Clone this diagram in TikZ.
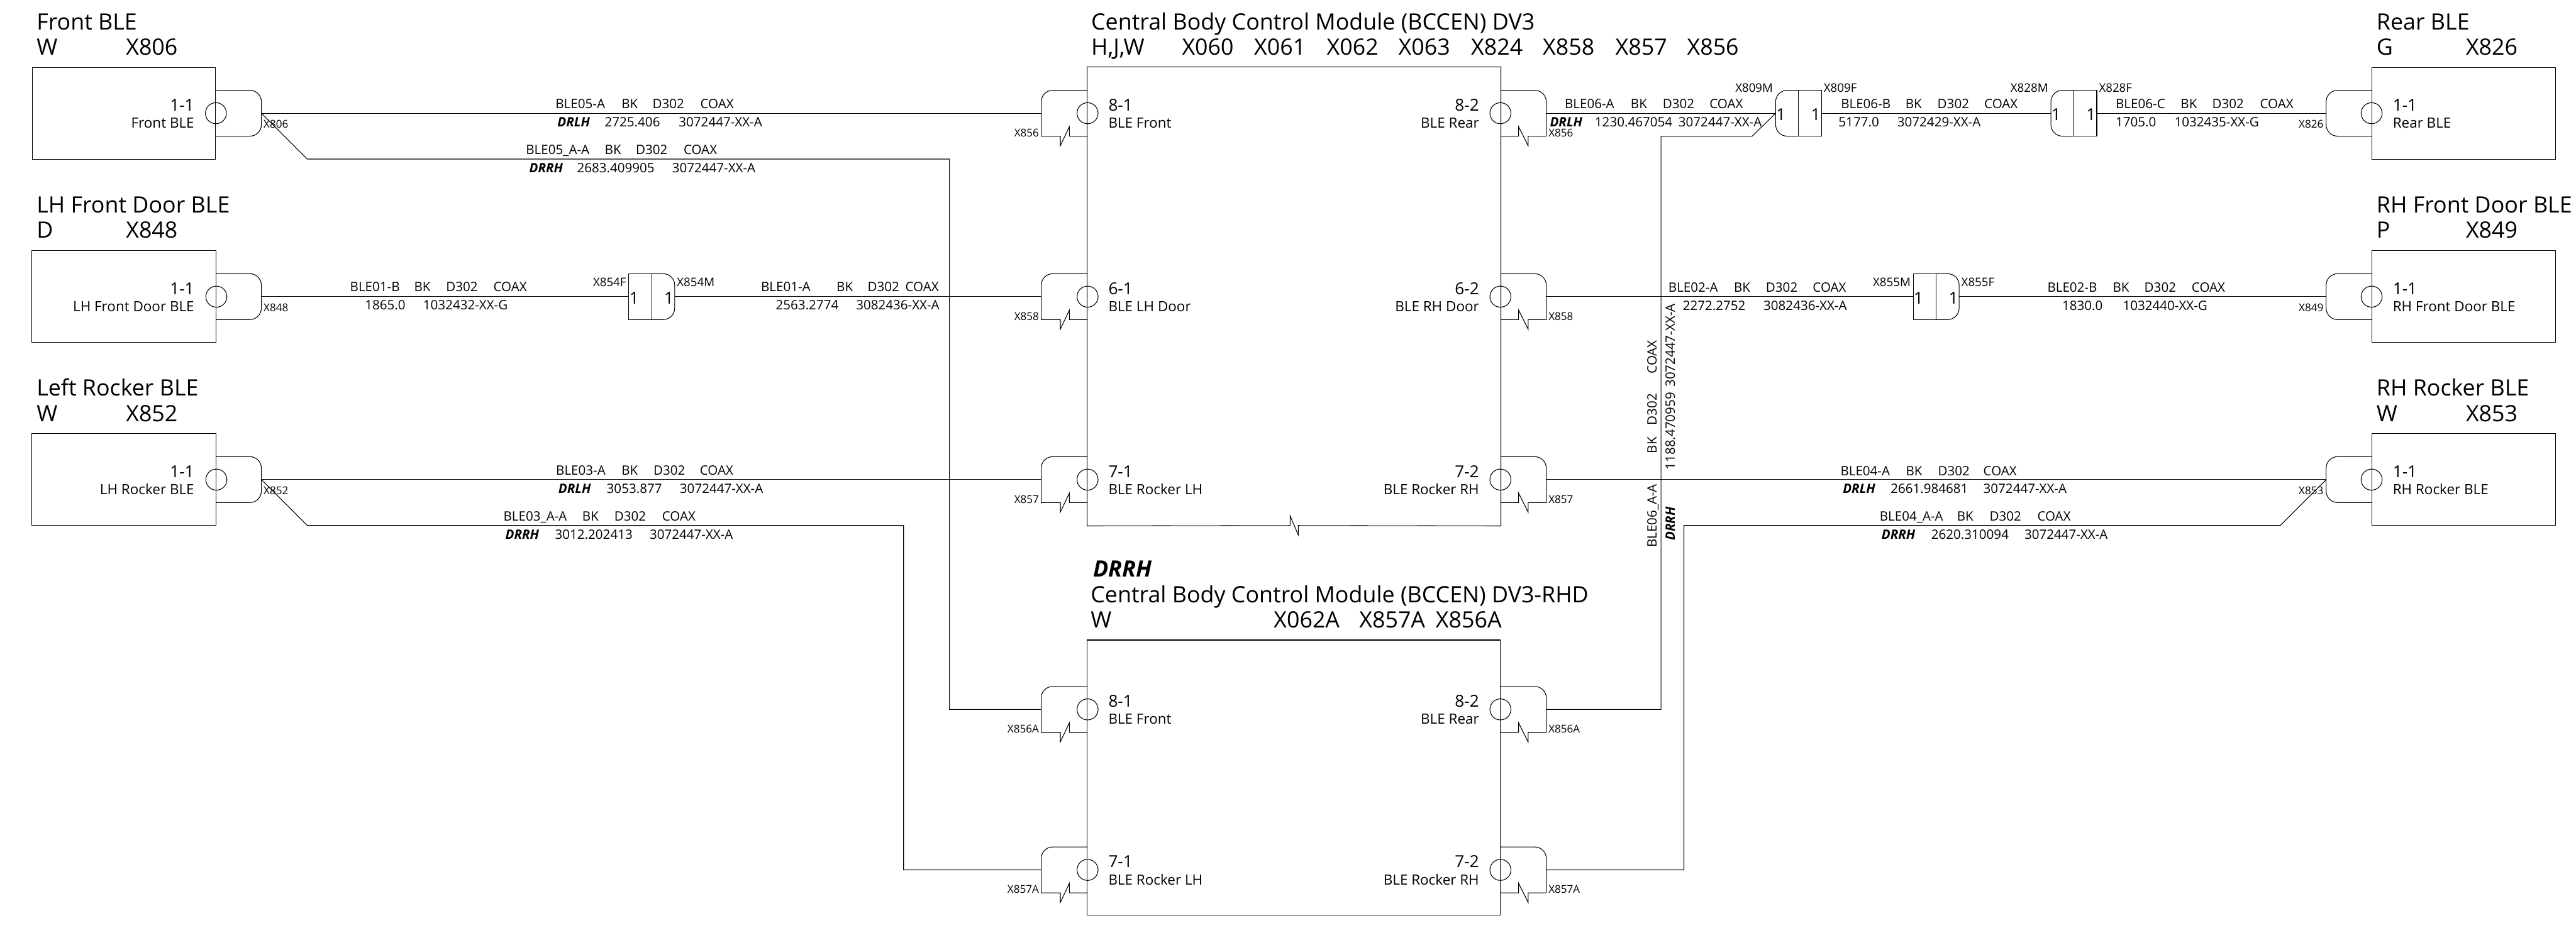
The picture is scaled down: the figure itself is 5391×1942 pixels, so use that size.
\documentclass[tikz,border=0pt]{standalone}
\usepackage{fontspec}
\setmainfont{Open Sans}
\usetikzlibrary{calc}
\tikzset{
  devbox/.style={draw,inner sep=0pt},
  pinring/.style={draw,circle,inner sep=0pt,minimum size=4.4mm},
  titletxt/.style={inner sep=0pt,anchor=base west,font=\fontsize{13.4}{15}\selectfont},
  tagtitle/.style={titletxt,font=\fontsize{13.4}{15}\selectfont\bfseries\itshape},
  porttxt/.style={inner sep=0pt,font=\fontsize{9.8}{11}\selectfont},
  namtxt/.style={inner sep=0pt,font=\fontsize{8.4}{9}\selectfont},
  wiretxt/.style={inner sep=0pt,anchor=base west,font=\fontsize{7.7}{9}\selectfont},
  tagtxt/.style={wiretxt,font=\fontsize{7.7}{9}\selectfont\bfseries\itshape},
  contxt/.style={inner sep=0pt,font=\fontsize{6.4}{8}\selectfont},
}
\begin{document}
\begin{tikzpicture}[x=0.01cm,y=-0.01cm,line width=.4pt]
\useasboundingbox (0,0) rectangle (5391,1942);
% devices on the left
\node[devbox,minimum width=3.83cm,minimum height=1.92cm] (front) at (259.5,237) {};
\node[devbox,minimum width=3.85cm,minimum height=1.92cm] (door) at (259.5,621) {};
\node[devbox,minimum width=3.85cm,minimum height=1.92cm] (rocker) at (259.5,1004) {};
\foreach \n/\y/\lab/\xname in {front/237/Front BLE/X806,door/621/LH Front Door BLE/X848,rocker/1004/LH Rocker BLE/X852} {
  \draw[rounded corners=2.4mm] (\n.east |- 0,\y-48) -- (547,\y-48) -- (547,\y+48) -- (\n.east |- 0,\y+48);
  \coordinate (\n-out) at (547,\y);
  \node[pinring] (\n-pin) at (\n.east |- 0,\y) {};
  \node[porttxt,anchor=base east] (\n-num) at (407,\y-5) {1-1};
  \node[namtxt,anchor=base east] (\n-nam) at (407,\y+31) {\lab};
  \node[contxt,anchor=base west] (\n-con) at (551,\y+31) {\xname};
}
% devices on the right
\node[devbox,minimum width=3.84cm,minimum height=1.92cm] (rear) at (5156,237) {};
\node[devbox,minimum width=3.84cm,minimum height=1.92cm] (rdoor) at (5156,621) {};
\node[devbox,minimum width=3.84cm,minimum height=1.92cm] (rrocker) at (5156,1004) {};
\foreach \n/\y/\lab/\xname in {rear/237/Rear BLE/X826,rdoor/621/RH Front Door BLE/X849,rrocker/1004/RH Rocker BLE/X853} {
  \draw[rounded corners=2.4mm] (\n.west |- 0,\y-48) -- (4868,\y-48) -- (4868,\y+48) -- (\n.west |- 0,\y+48);
  \coordinate (\n-out) at (4868,\y);
  \node[pinring] (\n-pin) at (\n.west |- 0,\y) {};
  \node[porttxt,anchor=base west] (\n-num) at (5007,\y-5) {1-1};
  \node[namtxt,anchor=base west] (\n-nam) at (5007,\y+31) {\lab};
  \node[contxt,anchor=base east] (\n-con) at (4863,\y+31) {\xname};
}
% the two modules
\node[inner sep=0pt,minimum width=8.64cm,minimum height=9.59cm] (bccen) at (2708,620.5) {};
\draw (bccen.south west) -- (2700,1100) -- ++(0,-20) -- ++(17,40) -- ++(0,-20) -- (bccen.south east) -- (bccen.north east) -- (bccen.north west) -- cycle;
\node[devbox,minimum width=8.65cm,minimum height=5.76cm] (rhd) at (2707.5,1628) {};
% ports, left side of the modules
\foreach \n/\y/\num/\lab/\xname in {p81/237/8-1/BLE Front/X856,p61/621/6-1/BLE LH Door/X858,p71/1004/7-1/BLE Rocker LH/X857,q81/1485/8-1/BLE Front/X856A,q71/1821/7-1/BLE Rocker LH/X857A} {
  \draw[rounded corners=2.4mm] (2276,\y-48) -- (2179,\y-48) -- (2179,\y);
  \draw (2179,\y) -- (2179,\y+48) -- (2219,\y+48) -- ++(0,20) -- ++(19,-40) -- ++(0,20) -- (2276,\y+48);
  \coordinate (\n) at (2179,\y);
  \node[pinring] (\n-pin) at (2276,\y) {};
  \node[porttxt,anchor=base west] (\n-num) at (2319,\y-5) {\num};
  \node[namtxt,anchor=base west] (\n-nam) at (2319,\y+31) {\lab};
  \node[contxt,anchor=base east] (\n-con) at (2175,\y+49) {\xname};
}
% ports, right side of the modules
\foreach \n/\y/\num/\lab/\xname in {p82/237/8-2/BLE Rear/X856,p62/621/6-2/BLE RH Door/X858,p72/1004/7-2/BLE Rocker RH/X857,q82/1485/8-2/BLE Rear/X856A,q72/1821/7-2/BLE Rocker RH/X857A} {
  \draw[rounded corners=2.4mm] (3140,\y-48) -- (3236,\y-48) -- (3236,\y);
  \draw (3236,\y) -- (3236,\y+48) -- (3198,\y+48) -- ++(0,20) -- ++(-20,-40) -- ++(0,20) -- (3140,\y+48);
  \coordinate (\n) at (3236,\y);
  \node[pinring] (\n-pin) at (3140,\y) {};
  \node[porttxt,anchor=base east] (\n-num) at (3096,\y-5) {\num};
  \node[namtxt,anchor=base east] (\n-nam) at (3096,\y+31) {\lab};
  \node[contxt,anchor=base west] (\n-con) at (3240,\y+49) {\xname};
}
% inline connectors, round end to the left
\foreach \n/\x/\y/\m/\f in {xa/3716/237/X809M/X809F,xb/4292/237/X828M/X828F} {
  \draw[rounded corners=2.4mm] (\x+47,\y-48) -- (\x,\y-48) -- (\x,\y+48) -- (\x+47,\y+48);
  \draw (\x+47,\y-48) -- (\x+96,\y-48) -- (\x+96,\y+48) -- (\x+47,\y+48) -- cycle;
  \coordinate (\n-l) at (\x,\y);
  \coordinate (\n-r) at (\x+96,\y);
  \node[porttxt,anchor=base] (\n-one) at (\x+11,\y+15) {1};
  \node[porttxt,anchor=base] (\n-two) at (\x+84,\y+15) {1};
  \node[contxt,anchor=base east,font=\fontsize{7}{9}\selectfont] (\n-m) at (\x-5,\y-44) {\m};
  \node[contxt,anchor=base west,font=\fontsize{7}{9}\selectfont] (\n-f) at (\x+100,\y-44) {\f};
}
% inline connectors, round end to the right
\foreach \n/\x/\y/\m/\f in {xc/1316/621/X854F/X854M,xd/4004/621/X855M/X855F} {
  \draw (\x+48,\y-48) -- (\x,\y-48) -- (\x,\y+48) -- (\x+48,\y+48) -- cycle;
  \draw[rounded corners=2.4mm] (\x+48,\y-48) -- (\x+96,\y-48) -- (\x+96,\y+48) -- (\x+48,\y+48);
  \coordinate (\n-l) at (\x,\y);
  \coordinate (\n-r) at (\x+96,\y);
  \node[porttxt,anchor=base] (\n-one) at (\x+11,\y+15) {1};
  \node[porttxt,anchor=base] (\n-two) at (\x+84,\y+15) {1};
  \node[contxt,anchor=base east,font=\fontsize{7}{9}\selectfont] (\n-m) at (\x-5,\y-21) {\m};
  \node[contxt,anchor=base west,font=\fontsize{7}{9}\selectfont] (\n-f) at (\x+100,\y-21) {\f};
}
% wires
\draw (front-out) -- (p81);
\draw (front-out) -- ++(96,96) -- (1987,333) |- (q81);
\draw (door-out) -- (xc-l);
\draw (xc-r) -- (p61);
\draw (rocker-out) -- (p71);
\draw (rocker-out) -- ++(96,96) -- (1891,1100) |- (q71);
\draw (p82) -- (xa-l);
\draw (xa-r) -- (xb-l);
\draw (xb-r) -- (rear-out);
\draw (p62) -- (xd-l);
\draw (xd-r) -- (rdoor-out);
\draw (p72) -- (rrocker-out);
\draw (q82) -| (3476,285) -- (3667,285) -- (xa-l);
\draw (q72) -| (3524,1100) -- (4772,1100) -- (rrocker-out);
% titles
\foreach \x/\y/\lab [count=\i] in {76/62/Front BLE,76/115/W,263/115/X806,
    76/445/LH Front Door BLE,76/498/D,263/498/X848,
    76/829/Left Rocker BLE,76/882/W,263/882/X852,
    2283/62/Central Body Control Module (BCCEN) DV3,2283/115/{H,J,W},2473/115/X060,2624/115/X061,2776/115/X062,2926/115/X063,3078/115/X824,3228/115/X858,3380/115/X857,3530/115/X856,
    2282/1261/Central Body Control Module (BCCEN) DV3-RHD,2282/1314/W,2665/1314/X062A,2844/1314/X857A,3004/1314/X856A,
    4973/62/Rear BLE,4973/115/G,5160/115/X826,
    4973/445/RH Front Door BLE,4973/498/P,5160/498/X849,
    4973/829/RH Rocker BLE,4973/882/W,5160/882/X853}
  \node[titletxt] (title\i) at (\x,\y) {\lab};
\node[tagtitle] (rhdtag) at (2287,1207) {DRRH};
% wire labels
\foreach \x/\y/\lab [count=\i] in {1162/227/BLE05-A,1300/227/BK,1365/227/D302,1465/227/COAX,1265/265/2725.406,1420/265/3072447-XX-A,
    1100/323/BLE05\_A-A,1265/323/BK,1330/323/D302,1430/323/COAX,1207/361/2683.409905,1406/361/3072447-XX-A,
    732/610/BLE01-B,866/610/BK,933/610/D302,1032/610/COAX,763/648/1865.0,885/648/1032432-XX-G,
    1592/610/BLE01-A,1750/610/BK,1815/610/D302,1894/610/COAX,1623/648/2563.2774,1791/648/3082436-XX-A,
    1163/994/BLE03-A,1300/994/BK,1367/994/D302,1464/994/COAX,1269/1033/3053.877,1422/1033/3072447-XX-A,
    1053/1090/BLE03\_A-A,1218/1090/BK,1285/1090/D302,1385/1090/COAX,1161/1129/3012.202413,1359/1129/3072447-XX-A,
    3274/227/BLE06-A,3412/227/BK,3479/227/D302,3577/227/COAX,3337/265/1230.467054,3512/265/3072447-XX-A,
    3852/227/BLE06-B,3987/227/BK,4054/227/D302,4152/227/COAX,3847/265/5177.0,3970/265/3072429-XX-A,
    4427/227/BLE06-C,4563/227/BK,4629/227/D302,4729/227/COAX,4427/265/1705.0,4550/265/1032435-XX-G,
    3491/611/BLE02-A,3628/611/BK,3695/611/D302,3793/611/COAX,3521/649/2272.2752,3690/649/3082436-XX-A,
    4284/611/BLE02-B,4421/611/BK,4487/611/D302,4586/611/COAX,4315/649/1830.0,4442/649/1032440-XX-G,
    3851/995/BLE04-A,3988/995/BK,4055/995/D302,4150/995/COAX,3956/1033/2661.984681,4150/1033/3072447-XX-A,
    3933/1090/BLE04\_A-A,4095/1090/BK,4163/1090/D302,4263/1090/COAX,4041/1129/2620.310094,4236/1129/3072447-XX-A}
  \node[wiretxt] (lab\i) at (\x,\y) {\lab};
\foreach \x/\y/\lab [count=\i] in {1166/265/DRLH,1107/361/DRRH,1168/1033/DRLH,1057/1129/DRRH,3243/265/DRLH,3856/1033/DRLH,3937/1129/DRRH}
  \node[tagtxt] (tag\i) at (\x,\y) {\lab};
% labels along the upright wire
\foreach \x/\y/\lab [count=\i] in {3467/950/BK,3467/891/D302,3467/783/COAX,3467/1147/BLE06\_A-A,3505/984/1188.470959,3505/811/3072447-XX-A}
  \node[wiretxt,rotate=90] (up\i) at (\x,\y) {\lab};
\node[tagtxt,rotate=90] (uptag) at (3505,1132) {DRRH};
\end{tikzpicture}
\end{document}
